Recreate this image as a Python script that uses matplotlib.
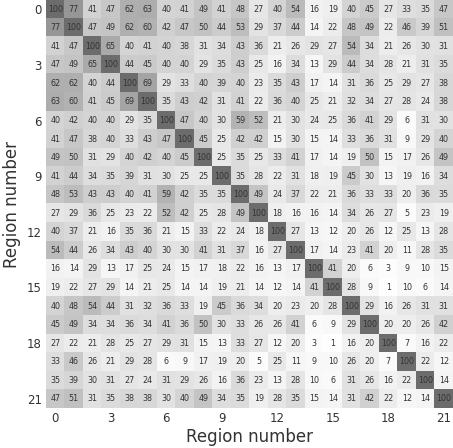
import numpy as np
import matplotlib
matplotlib.use("Agg")
import matplotlib.pyplot as plt

row00 = [100, 77, 41, 47, 62, 63, 40, 41, 49, 41, 48, 27, 40, 54, 16, 19, 40, 45, 27, 33, 35, 47]
row01 = [77, 100, 47, 49, 62, 60, 42, 47, 50, 44, 53, 29, 37, 44, 14, 22, 48, 49, 22, 46, 39, 51]
row02 = [41, 47, 100, 65, 40, 41, 40, 38, 31, 34, 43, 36, 21, 26, 29, 27, 54, 34, 21, 26, 30, 31]
row03 = [47, 49, 65, 100, 44, 45, 40, 40, 29, 35, 43, 25, 16, 34, 13, 29, 44, 34, 28, 21, 31, 35]
row04 = [62, 62, 40, 44, 100, 69, 29, 33, 40, 39, 40, 23, 35, 43, 17, 14, 31, 36, 25, 29, 27, 38]
row05 = [63, 60, 41, 45, 69, 100, 35, 43, 42, 31, 41, 22, 36, 40, 25, 21, 32, 34, 27, 28, 24, 38]
row06 = [40, 42, 40, 40, 29, 35, 100, 47, 40, 30, 59, 52, 21, 30, 24, 25, 36, 41, 29, 6, 31, 30]
row07 = [41, 47, 38, 40, 33, 43, 47, 100, 45, 25, 42, 42, 15, 30, 15, 14, 33, 36, 31, 9, 29, 40]
row08 = [49, 50, 31, 29, 40, 42, 40, 45, 100, 25, 35, 25, 33, 41, 17, 14, 19, 50, 15, 17, 26, 49]
row09 = [41, 44, 34, 35, 39, 31, 30, 25, 25, 100, 35, 28, 22, 31, 18, 19, 45, 30, 13, 19, 16, 34]
row10 = [48, 53, 43, 43, 40, 41, 59, 42, 35, 35, 100, 49, 24, 37, 22, 21, 36, 33, 33, 20, 36, 35]
row11 = [27, 29, 36, 25, 23, 22, 52, 42, 25, 28, 49, 100, 18, 16, 16, 14, 34, 26, 27, 5, 23, 19]
row12 = [40, 37, 21, 16, 35, 36, 21, 15, 33, 22, 24, 18, 100, 27, 13, 12, 20, 26, 12, 25, 13, 28]
row13 = [54, 44, 26, 34, 43, 40, 30, 30, 41, 31, 37, 16, 27, 100, 17, 14, 23, 41, 20, 11, 28, 35]
row14 = [16, 14, 29, 13, 17, 25, 24, 15, 17, 18, 22, 16, 13, 17, 100, 41, 20, 6, 3, 9, 10, 15]
row15 = [19, 22, 27, 29, 14, 21, 25, 14, 14, 19, 21, 14, 12, 14, 41, 100, 28, 9, 1, 10, 6, 14]
row16 = [40, 48, 54, 44, 31, 32, 36, 33, 19, 45, 36, 34, 20, 23, 20, 28, 100, 29, 16, 26, 31, 31]
row17 = [45, 49, 34, 34, 36, 34, 41, 36, 50, 30, 33, 26, 26, 41, 6, 9, 29, 100, 20, 20, 26, 42]
row18 = [27, 22, 21, 28, 25, 27, 29, 31, 15, 13, 33, 27, 12, 20, 3, 1, 16, 20, 100, 7, 16, 22]
row19 = [33, 46, 26, 21, 29, 28, 6, 9, 17, 19, 20, 5, 25, 11, 9, 10, 26, 20, 7, 100, 22, 12]
row20 = [35, 39, 30, 31, 27, 24, 31, 29, 26, 16, 36, 23, 13, 28, 10, 6, 31, 26, 16, 22, 100, 14]
row21 = [47, 51, 31, 35, 38, 38, 30, 40, 49, 34, 35, 19, 28, 35, 15, 14, 31, 42, 22, 12, 14, 100]

tick_pos = [0, 3, 6, 9, 12, 15, 18, 21]

M = np.array([row00, row01, row02, row03, row04, row05, row06, row07, row08, row09, row10,
              row11, row12, row13, row14, row15, row16, row17, row18, row19, row20, row21])
n = M.shape[0]

fig = plt.figure(figsize=(4.53, 4.48), dpi=100)
ax = fig.add_axes([46 / 453, 40 / 448, 407 / 453, 408 / 448])
ax.imshow(M, cmap="Greys", vmin=0, vmax=100, alpha=0.58, aspect="auto",
          interpolation="nearest")

for i in range(n):
    for j in range(n):
        ax.text(j, i, str(M[i, j]), ha="center", va="center",
                fontsize=5.8, color="#333333")

for s in ax.spines.values():
    s.set_visible(False)
ax.set_xticks(tick_pos)
ax.set_yticks(tick_pos)
ax.tick_params(length=0, labelsize=8.5, labelcolor="#333333", pad=3)
ax.set_xlabel("Region number", fontsize=12, color="#333333", labelpad=2)
ax.set_ylabel("Region number", fontsize=12, color="#333333", labelpad=4)

fig.savefig("out.png", dpi=100)
